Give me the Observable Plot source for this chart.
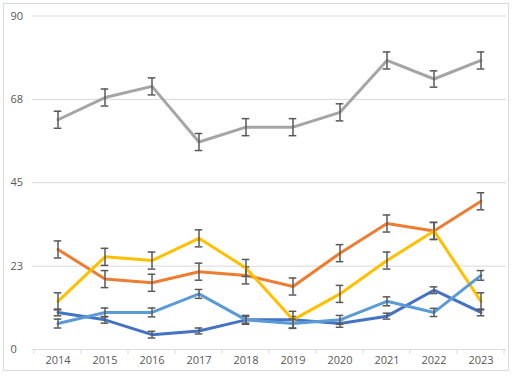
<!DOCTYPE html>
<html>
<head>
<meta charset="utf-8">
<script src="https://cdn.jsdelivr.net/npm/d3@7"></script>
<script src="https://cdn.jsdelivr.net/npm/@observablehq/plot@0.6"></script>
<style>
  html, body { margin: 0; padding: 0; background: #fff; }
  #chart { width: 513px; height: 378px; }
</style>
</head>
<body>
<div id="chart"></div>
<script>
const years = ["2014","2015","2016","2017","2018","2019","2020","2021","2022","2023"];

const darkBlue  = [10, 8, 4, 5, 8, 8, 7, 9, 16, 10];
const orange    = [27, 19, 18, 21, 20, 17, 26, 34, 32, 40];
const gray      = [62, 68, 71, 56, 60, 60, 64, 78, 73, 78];
const yellow    = [13, 25, 24, 30, 22, 8, 15, 24, 32, 13];
const lightBlue = [7, 10, 10, 15, 8, 7, 8, 13, 10, 20];

const darkBlueErr  = [0.9, 0.9, 0.9, 0.8, 0.9, 0.9, 1.0, 0.8, 0.9, 0.9];
const orangeErr    = [2.3, 2.3, 2.3, 2.3, 2.3, 2.3, 2.3, 2.3, 2.3, 2.3];
const grayErr      = [2.3, 2.3, 2.3, 2.3, 2.3, 2.3, 2.3, 2.3, 2.2, 2.3];
const yellowErr    = [2.3, 2.3, 2.3, 2.3, 2.3, 2.3, 2.3, 2.3, 2.3, 2.3];
const lightBlueErr = [1.2, 1.2, 1.2, 1.2, 1.2, 1.2, 1.2, 1.2, 1.1, 1.3];

const yTicks = [0, 22.5, 45, 67.5, 90];
const yTickLabels = ["0", "23", "45", "68", "90"];

const seriesList = [
  {name: "s1", values: darkBlue,  err: darkBlueErr,  color: "#4472C4"},
  {name: "s2", values: orange,    err: orangeErr,    color: "#ED7D31"},
  {name: "s3", values: gray,      err: grayErr,      color: "#A5A5A5"},
  {name: "s4", values: yellow,    err: yellowErr,    color: "#FFC000"},
  {name: "s5", values: lightBlue, err: lightBlueErr, color: "#5B9BD5"}
];

const rows = seriesList.flatMap((s, si) => years.map((yr, i) => ({
  series: s.name, order: si, year: yr, value: s.values[i], err: s.err[i], color: s.color
})));

const marks = [
  Plot.ruleY(yTicks, {stroke: "#d9d9d9", strokeWidth: 1}),
  Plot.axisY({ticks: yTicks, tickSize: 0, tickPadding: 22, textAnchor: "start",
    tickFormat: d => yTickLabels[yTicks.indexOf(d)], fill: "#595959"}),
  Plot.axisX({tickSize: 0, tickPadding: 7, fill: "#595959"})
];
for (const s of seriesList) {
  const d = rows.filter(r => r.series === s.name);
  marks.push(Plot.lineY(d, {x: "year", y: "value", stroke: s.color, strokeWidth: 3,
    strokeLinejoin: "round", strokeLinecap: "round"}));
  marks.push(Plot.ruleX(d, {x: "year", y1: r => r.value - r.err, y2: r => r.value + r.err,
    stroke: "#595959", strokeWidth: 1.5}));
  marks.push(Plot.tickY(d, {x: "year", y: r => r.value - r.err, stroke: "#595959", strokeWidth: 1.5,
    insetLeft: 19.7, insetRight: 19.7}));
  marks.push(Plot.tickY(d, {x: "year", y: r => r.value + r.err, stroke: "#595959", strokeWidth: 1.5,
    insetLeft: 19.7, insetRight: 19.7}));
}

const plot = Plot.plot({
  width: 513,
  height: 378,
  marginLeft: 32,
  marginRight: 7,
  marginTop: 15.5,
  marginBottom: 29,
  style: {fontFamily: "'Open Sans', sans-serif", fontSize: "11px", color: "#595959", background: "#fff"},
  x: {type: "band", domain: years, padding: 0, label: null},
  y: {domain: [0, 90], label: null},
  marks
});

// border and category boundary ticks
const svg = d3.select(plot);
const xs = plot.scale("x");
const ys = plot.scale("y");
const y0 = ys.apply(0);
const bw = xs.bandwidth;
const bounds = years.map(y => xs.apply(y)).concat([xs.apply(years[years.length - 1]) + bw]);
svg.append("g").selectAll("line").data(bounds).join("line")
  .attr("x1", d => d).attr("x2", d => d)
  .attr("y1", y0).attr("y2", y0 + 5)
  .attr("stroke", "#d9d9d9").attr("stroke-width", 1);
svg.insert("rect", ":first-child")
  .attr("x", 3.5).attr("y", 3.5).attr("width", 505).attr("height", 367)
  .attr("fill", "none").attr("stroke", "#d9d9d9").attr("stroke-width", 1);

document.getElementById("chart").appendChild(plot);
</script>
</body>
</html>
